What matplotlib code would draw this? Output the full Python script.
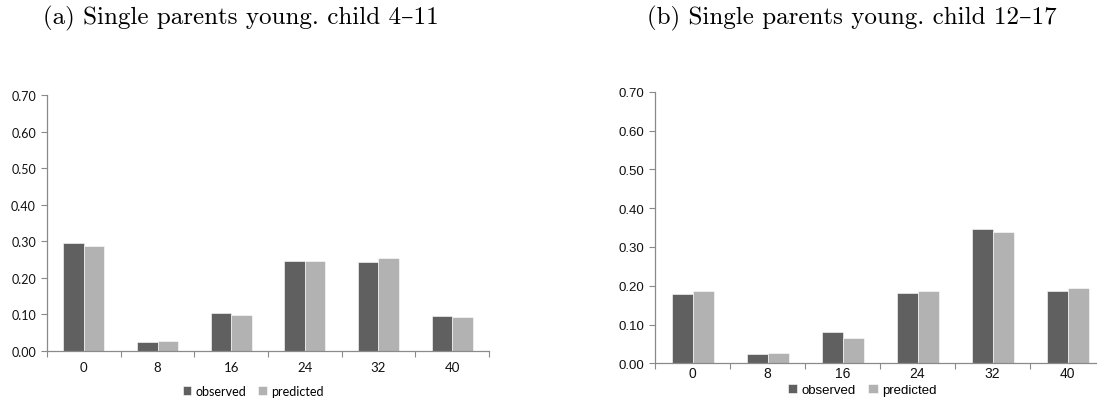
import matplotlib
matplotlib.use("Agg")
import matplotlib.pyplot as plt
import numpy as np

categories = ["0", "8", "16", "24", "32", "40"]
obs_a = [0.294, 0.024, 0.104, 0.245, 0.242, 0.095]
pred_a = [0.286, 0.027, 0.098, 0.245, 0.254, 0.093]
obs_b = [0.179, 0.025, 0.080, 0.180, 0.345, 0.187]
pred_b = [0.186, 0.027, 0.065, 0.187, 0.338, 0.194]
yticks = [0.0, 0.1, 0.2, 0.3, 0.4, 0.5, 0.6, 0.7]
titles = ["(a) Single parents young. child 4\u201311",
          "(b) Single parents young. child 12\u201317"]
series_names = ["observed", "predicted"]

C_OBS = "#606060"
C_PRED = "#b2b2b2"
AXC = "#8a8a8a"

W, H = 1097, 402
fig = plt.figure(figsize=(W / 100, H / 100), dpi=100)

def px_axes(x0, x1, ytop, ybot):
    return fig.add_axes([x0 / W, 1 - ybot / H, (x1 - x0) / W, (ybot - ytop) / H])

def draw(ax, obs, pred, font, fs, legend_xy, xpad):
    x = np.arange(len(categories))
    bw = 0.28
    b1 = ax.bar(x - bw / 2, obs, bw, color=C_OBS, edgecolor="white", linewidth=0.4, label=series_names[0])
    b2 = ax.bar(x + bw / 2, pred, bw, color=C_PRED, edgecolor="white", linewidth=0.4, label=series_names[1])
    ax.set_xlim(-0.5, len(categories) - 0.5)
    ax.set_ylim(0, 0.7)
    ax.set_yticks(yticks)
    ax.set_yticklabels([f"{v:.2f}" for v in yticks], fontfamily=font, fontsize=fs)
    ax.set_xticks(x)
    ax.set_xticklabels(categories, fontfamily=font, fontsize=fs + 0.5)
    ax.set_xticks(np.arange(len(categories) + 1) - 0.5, minor=True)
    ax.tick_params(axis="x", which="major", length=0, pad=xpad, colors="#111111")
    ax.tick_params(axis="x", which="minor", length=4, direction="out", color=AXC, width=0.8)
    ax.tick_params(axis="y", length=4, direction="out", color=AXC, width=0.8, pad=4, labelcolor="#111111")
    for s in ["top", "right"]:
        ax.spines[s].set_visible(False)
    for s in ["left", "bottom"]:
        ax.spines[s].set_color(AXC)
        ax.spines[s].set_linewidth(0.9)
    fig.legend(handles=[b1, b2], labels=series_names, loc="center",
               bbox_to_anchor=(legend_xy[0] / W, 1 - legend_xy[1] / H),
               ncol=2, frameon=False, handlelength=0.7, handleheight=0.7,
               handletextpad=0.3, columnspacing=1.0,
               prop={"family": font, "size": fs})

ax1 = px_axes(47, 489, 96, 352)
draw(ax1, obs_a, pred_a, "Lato", 9, (253, 392), 7)
ax2 = px_axes(655, 1105, 92.7, 364.3)
draw(ax2, obs_b, pred_b, "Liberation Sans", 9.5, (862, 391), 2)

fig.text(241 / W, 1 - 18 / H, titles[0], ha="center", va="center",
         fontsize=18, family=["cmr10", "DejaVu Serif"])
fig.text(852 / W, 1 - 18 / H, titles[1], ha="center", va="center",
         fontsize=18, family=["cmr10", "DejaVu Serif"])

fig.savefig("out.png", dpi=100)
